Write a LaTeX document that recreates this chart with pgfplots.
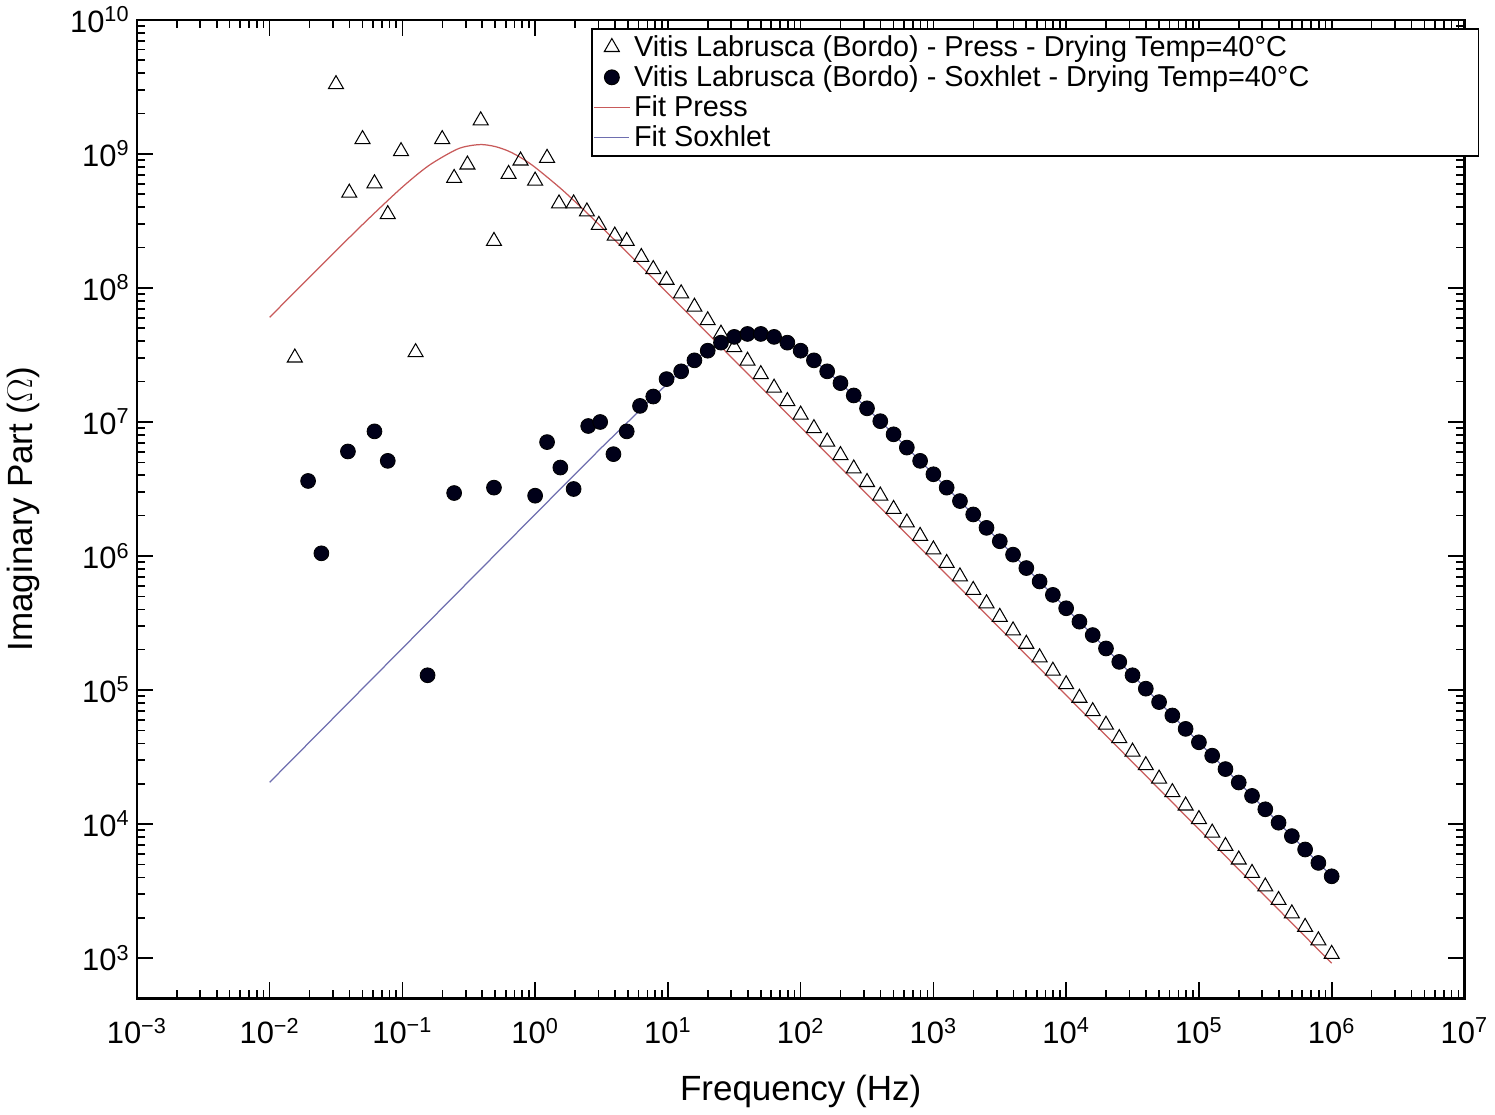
\documentclass[border=0pt]{standalone}
\usepackage{pgfplots}
\usepackage{pgfplotstable}
\pgfplotsset{compat=1.18}
\usepackage{fontspec}
\setmainfont{Liberation Sans}
\definecolor{fitred}{RGB}{200,90,90}
\definecolor{fitblue}{RGB}{110,110,175}
% columns: L = log10(frequency / Hz), Y = log10(imaginary part / Ohm)
\pgfplotstableread{
L Y
-1.81 7.48
-1.50 9.52
-1.40 8.71
-1.30 9.11
-1.21 8.78
-1.11 8.55
-1.01 9.02
-0.90 7.52
-0.70 9.11
-0.61 8.82
-0.51 8.92
-0.41 9.25
-0.31 8.35
-0.20 8.85
-0.11 8.95
0.00 8.80
0.09 8.97
0.18 8.63
0.29 8.63
0.39 8.57
0.48 8.47
0.60 8.39
0.69 8.35
0.80 8.23
0.89 8.14
0.99 8.06
1.1 7.959
1.2 7.859
1.3 7.758
1.4 7.658
1.5 7.557
1.6 7.456
1.7 7.356
1.8 7.255
1.9 7.155
2.0 7.054
2.1 6.953
2.2 6.853
2.3 6.752
2.4 6.652
2.5 6.551
2.6 6.450
2.7 6.350
2.8 6.249
2.9 6.149
3.0 6.048
3.1 5.947
3.2 5.847
3.3 5.746
3.4 5.646
3.5 5.545
3.6 5.444
3.7 5.344
3.8 5.243
3.9 5.143
4.0 5.042
4.1 4.941
4.2 4.841
4.3 4.740
4.4 4.640
4.5 4.539
4.6 4.438
4.7 4.338
4.8 4.237
4.9 4.137
5.0 4.036
5.1 3.935
5.2 3.835
5.3 3.734
5.4 3.634
5.5 3.533
5.6 3.432
5.7 3.332
5.8 3.231
5.9 3.131
6.0 3.030
}\press
\pgfplotstableread{
L Y
-1.71 6.56
-1.61 6.02
-1.41 6.78
-1.21 6.93
-1.11 6.71
-0.81 5.11
-0.61 6.47
-0.31 6.51
0.00 6.45
0.09 6.85
0.19 6.66
0.29 6.50
0.40 6.97
0.49 7.00
0.59 6.76
0.69 6.93
0.79 7.12
0.89 7.19
0.99 7.32
1.1 7.378
1.2 7.460
1.3 7.532
1.4 7.592
1.5 7.635
1.6 7.657
1.7 7.657
1.8 7.635
1.9 7.592
2.0 7.532
2.1 7.460
2.2 7.378
2.3 7.290
2.4 7.198
2.5 7.102
2.6 7.006
2.7 6.908
2.8 6.809
2.9 6.710
3.0 6.610
3.1 6.510
3.2 6.410
3.3 6.310
3.4 6.210
3.5 6.110
3.6 6.010
3.7 5.910
3.8 5.810
3.9 5.710
4.0 5.610
4.1 5.510
4.2 5.410
4.3 5.310
4.4 5.210
4.5 5.110
4.6 5.010
4.7 4.910
4.8 4.810
4.9 4.710
5.0 4.610
5.1 4.510
5.2 4.410
5.3 4.310
5.4 4.210
5.5 4.110
5.6 4.010
5.7 3.910
5.8 3.810
5.9 3.710
6.0 3.610
}\soxhlet
\pgfplotstableread{
L Y
-2.0 7.781
-1.75 8.030
-1.5 8.278
-1.25 8.521
-1.0 8.753
-0.8 8.914
-0.6 9.030
-0.5 9.060
-0.4 9.070
-0.3 9.055
-0.2 9.021
-0.1 8.968
0.0 8.900
0.2 8.736
0.4 8.551
0.6 8.357
0.8 8.159
1.0 7.960
1.5 7.461
2.0 6.961
3.0 5.961
4.0 4.961
5.0 3.961
6.0 2.961
}\fitpress
\pgfplotstableread{
L Y
-2.0 4.311
-1.0 5.311
0.0 6.311
0.5 6.809
1.0 7.290
1.1 7.378
1.2 7.460
1.3 7.532
1.4 7.592
1.5 7.635
1.6 7.657
1.7 7.657
1.8 7.635
1.9 7.592
2.0 7.532
2.1 7.460
2.2 7.378
2.3 7.290
2.4 7.198
2.5 7.102
2.6 7.006
2.7 6.908
2.8 6.809
2.9 6.710
3.0 6.610
4.0 5.610
5.0 4.610
6.0 3.610
}\fitsox
\newcommand{\logtick}[1]{\pgfmathtruncatemacro\e{round(#1/2.302585093)}10\textsuperscript{\ifnum\e<0 −\the\numexpr-\e\relax\else\e\fi}}
\begin{document}
\begin{tikzpicture}
\begin{axis}[
  scale only axis, width=644.5pt, height=475pt,
  xmode=log, ymode=log,
  xmin=1e-3, xmax=1e7, ymin=5e2, ymax=1e10,
  ytick={1e3,1e4,1e5,1e6,1e7,1e8,1e9,1e10},
  xtick={1e-3,1e-2,1e-1,1,1e1,1e2,1e3,1e4,1e5,1e6,1e7},
  tick align=inside,
  major tick length=8pt, minor tick length=4pt,
  every tick/.style={black, line width=0.8pt},
  axis line style={line width=1.2pt},
  xticklabel={\logtick{\tick}},
  yticklabel={\logtick{\tick}},
  ticklabel style={font=\fontsize{15}{18}\selectfont},
  xticklabel style={yshift=-6pt},
  xlabel={Frequency (Hz)}, ylabel={Imaginary Part ($\Omega$)},
  label style={font=\fontsize{17}{20}\selectfont},
  xlabel style={yshift=-8pt},
  ylabel style={yshift=8pt},
  legend cell align=left,
  legend style={at={(0.342,0.9916)}, anchor=north west, draw=black, line width=0.8pt,
    font=\fontsize{14}{16}\selectfont, inner sep=1pt, row sep=-1pt,
    nodes={inner sep=2pt}},
  legend image post style={line width=0.5pt},
]
\addplot[only marks, mark=triangle, mark size=4.2pt, mark options={black, line width=0.5pt}]
  table[x expr={10^\thisrow{L}}, y expr={10^\thisrow{Y}}]{\press};
\addlegendentry{Vitis Labrusca (Bordo) - Press - Drying Temp=40°C\hspace*{90pt}}
\addplot[only marks, mark=*, mark size=3.6pt, mark options={fill=black!90!blue, draw=black}]
  table[x expr={10^\thisrow{L}}, y expr={10^\thisrow{Y}}]{\soxhlet};
\addlegendentry{Vitis Labrusca (Bordo) - Soxhlet - Drying Temp=40°C}
\addplot[fitred, line width=0.6pt, smooth]
  table[x expr={10^\thisrow{L}}, y expr={10^\thisrow{Y}}]{\fitpress};
\addlegendentry{Fit Press}
\addplot[fitblue, line width=0.6pt]
  table[x expr={10^\thisrow{L}}, y expr={10^\thisrow{Y}}]{\fitsox};
\addlegendentry{Fit Soxhlet}
\end{axis}
\end{tikzpicture}
\end{document}
